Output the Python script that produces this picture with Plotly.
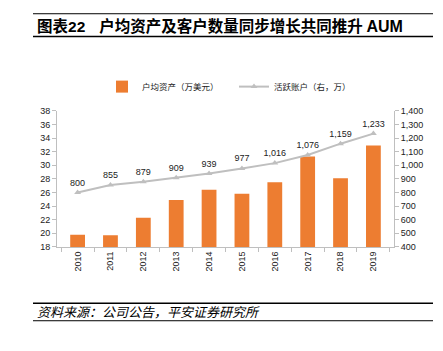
import plotly.graph_objects as go

years = ["2010", "2011", "2012", "2013", "2014", "2015", "2016", "2017", "2018", "2019"]
asset_per_account = [19.8, 19.7, 22.3, 24.9, 26.4, 25.8, 27.5, 31.3, 28.1, 32.9]
active_accounts = [800, 855, 879, 909, 939, 977, 1016, 1076, 1159, 1233]

W, H = 443, 351
def px(x): return x / W
def py(y): return 1 - y / H

FONT_NUM = "Liberation Sans, Arial, sans-serif"
FONT_CJK = "Noto Sans CJK SC, sans-serif"

fig = go.Figure()
fig.add_trace(go.Bar(
    x=years, y=asset_per_account, name="户均资产（万美元）",
    marker=dict(color="#ED7D31", line=dict(width=0)),
    yaxis="y",
))
fig.add_trace(go.Scatter(
    x=years, y=active_accounts, name="活跃账户（右，万）",
    mode="lines+markers+text",
    line=dict(color="#BFBFBF", width=2),
    marker=dict(symbol="triangle-up", size=6, color="#BFBFBF"),
    text=[f"{v:,}" for v in active_accounts],
    textposition="top center",
    textfont=dict(family=FONT_NUM, size=9, color="#222222"),
    yaxis="y2", cliponaxis=False,
))

axis_common = dict(
    showgrid=False, zeroline=False, showline=True, linecolor="#BFBFBF", linewidth=1,
    ticks="outside", ticklen=4, tickcolor="#BFBFBF",
    tickfont=dict(family=FONT_NUM, size=9, color="#222222"),
)

fig.update_layout(
    width=W, height=H,
    margin=dict(l=0, r=0, t=0, b=0),
    paper_bgcolor="white", plot_bgcolor="white",
    bargap=0.55,
    showlegend=True,
    legend=dict(orientation="h", x=px(102), y=py(84), yanchor="middle", xanchor="left",
                font=dict(family=FONT_CJK, size=8.5, color="#222222"),
                entrywidth=87, entrywidthmode="pixels",
                tracegroupgap=0, bgcolor="rgba(0,0,0,0)"),
    xaxis=dict(
        domain=[px(57), px(394)],
        showgrid=False, showline=True, linecolor="#BFBFBF", linewidth=1,
        ticks="outside", ticklen=4, tickcolor="#BFBFBF", tickson="boundaries",
        tickangle=-90, tickfont=dict(family=FONT_NUM, size=9, color="#222222"),
        type="category",
    ),
    yaxis=dict(
        domain=[py(249), py(109)],
        range=[18, 38], dtick=2, **axis_common,
    ),
    yaxis2=dict(
        overlaying="y", side="right", anchor="x",
        range=[400, 1400], dtick=100, tickformat=",d", **axis_common,
    ),
)

# Title and frame lines
title_text = ("<b>图表<span style='font-family:Liberation Sans, Arial'>22</span>"
              "    户均资产及客户数量同步增长共同推升 "
              "<span style='font-family:Liberation Sans, Arial;font-size:16px'>AUM</span></b>")
fig.add_annotation(x=px(35), y=py(21), xref="paper", yref="paper", xanchor="left", yanchor="middle",
                   text=title_text, showarrow=False,
                   font=dict(family=FONT_CJK, size=15.5, color="#000000"))
fig.add_shape(type="line", xref="paper", yref="paper", x0=px(33), x1=px(433), y0=py(9), y1=py(9),
              line=dict(color="#000000", width=1))
fig.add_shape(type="line", xref="paper", yref="paper", x0=px(33), x1=px(433), y0=py(32.5), y1=py(32.5),
              line=dict(color="#000000", width=1.5))

# Source footer
fig.add_shape(type="line", xref="paper", yref="paper", x0=px(33), x1=px(433), y0=py(307), y1=py(307),
              line=dict(color="#000000", width=1.5))
fig.add_annotation(x=px(35), y=py(316), xref="paper", yref="paper", xanchor="left", yanchor="middle",
                   text="<i>资料来源：公司公告，平安证券研究所</i>", showarrow=False,
                   font=dict(family=FONT_CJK, size=13, color="#000000"))
fig.add_shape(type="line", xref="paper", yref="paper", x0=px(33), x1=px(433), y0=py(325), y1=py(325),
              line=dict(color="#000000", width=1))

fig.write_html("out.html")
